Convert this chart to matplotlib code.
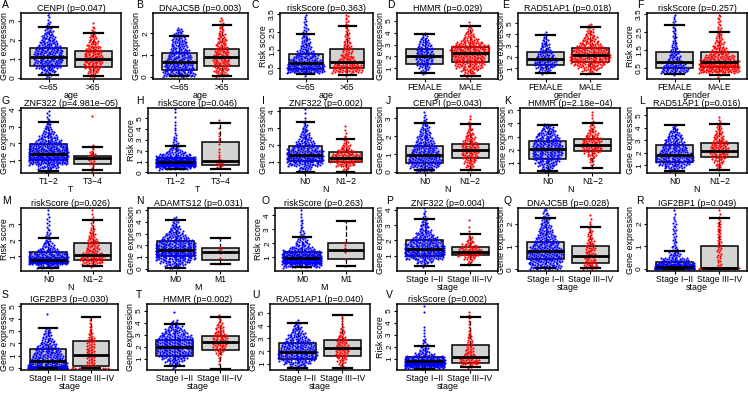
import numpy as np
import matplotlib.pyplot as plt

plt.rcParams['font.family'] = ['Liberation Sans', 'DejaVu Sans']

# ---- data ----
letters = list('ABCDEFGHIJKLMNOPQRSTUV')
titles = ['CENPI (p=0.047)', 'DNAJC5B (p=0.003)', 'riskScore (p=0.363)', 'HMMR (p=0.029)',
          'RAD51AP1 (p=0.018)', 'riskScore (p=0.257)',
          'ZNF322 (p=4.981e\u221205)', 'riskScore (p=0.046)', 'ZNF322 (p=0.002)', 'CENPI (p=0.043)',
          'HMMR (p=2.18e\u221204)', 'RAD51AP1 (p=0.016)',
          'riskScore (p=0.026)', 'ADAMTS12 (p=0.031)', 'riskScore (p=0.263)', 'ZNF322 (p=0.004)',
          'DNAJC5B (p=0.028)', 'IGF2BP1 (p=0.049)',
          'IGF2BP3 (p=0.030)', 'HMMR (p=0.002)', 'RAD51AP1 (p=0.040)', 'riskScore (p=0.002)']
clin = ['age'] * 3 + ['gender'] * 3 + ['T'] * 2 + ['N'] * 5 + ['M'] * 2 + ['stage'] * 7
group_names = {'age': ['<=65', '>65'], 'gender': ['FEMALE', 'MALE'], 'T': ['T1\u22122', 'T3\u22124'],
               'N': ['N0', 'N1\u22122'], 'M': ['M0', 'M1'], 'stage': ['Stage I\u2212II', 'Stage III\u2212IV']}

ylims = [(-0.05, 3.42), (-0.1, 2.93), (-0.09, 3.56), (0.08, 5.67), (0.05, 5.9), (-0.09, 3.56),
         (0.25, 4.1), (-0.06, 5.95), (0.34, 4.2), (-0.05, 3.57), (0.23, 5.17), (0.4, 5.58),
         (0.07, 4.03), (-0.2, 5.2), (0.01, 4.53), (0.0, 4.13), (-0.08, 2.68), (-0.1, 2.7),
         (-0.16, 5.2), (0.09, 5.55), (0.53, 5.7), (0.09, 5.57)]
yticks = [[0, 1, 2, 3], [0, 1, 2], [0.5, 1.5, 2.5, 3.5], [1, 2, 3, 4, 5], [1, 2, 3, 4, 5], [0.5, 1.5, 2.5, 3.5],
          [1, 2, 3, 4], [0, 1, 2, 3, 4, 5], [1, 2, 3, 4], [0, 1, 2, 3], [1, 2, 3, 4, 5], [1, 2, 3, 4, 5],
          [1, 2, 3], [0, 1, 2, 3, 4, 5], [1, 2, 3, 4], [1, 2, 3, 4], [0, 1, 2], [0, 1, 2],
          [0, 1, 2, 3, 4, 5], [1, 2, 3, 4, 5], [1, 2, 3, 4, 5], [1, 2, 3, 4, 5]]

# box stats per group: low whisker, q1, median, q3, high whisker
box_stats = [
    [[0.14, 0.65, 1.12, 1.56, 2.7], [0.1, 0.56, 0.98, 1.42, 2.35]],
    [[0.03, 0.31, 0.69, 1.08, 1.89], [0.06, 0.5, 0.89, 1.26, 2.38]],
    [[0.19, 0.46, 0.81, 1.27, 2.4], [0.15, 0.5, 0.86, 1.55, 2.85]],
    [[0.57, 1.38, 2.05, 2.6, 3.86], [0.3, 1.48, 2.29, 2.8, 4.55]],
    [[0.55, 1.3, 1.85, 2.4, 3.95], [0.5, 1.55, 2.2, 2.8, 4.7]],
    [[0.19, 0.5, 0.83, 1.42, 2.9], [0.13, 0.56, 0.87, 1.42, 2.5]],
    [[0.37, 1.04, 1.38, 1.95, 3.3], [0.42, 0.78, 1.15, 1.25, 1.8]],
    [[0.3, 0.7, 0.92, 1.29, 2.4], [0.3, 0.7, 1.07, 2.8, 4.6]],
    [[0.4, 1.06, 1.4, 1.96, 3.35], [0.42, 1.0, 1.26, 1.56, 2.37]],
    [[0.09, 0.53, 0.98, 1.46, 2.76], [0.12, 0.76, 1.21, 1.57, 2.7]],
    [[0.35, 1.3, 2.05, 2.63, 3.87], [0.63, 1.87, 2.37, 2.8, 4.05]],
    [[0.53, 1.26, 1.84, 2.62, 4.2], [0.6, 1.66, 2.13, 2.83, 4.3]],
    [[0.28, 0.59, 0.79, 1.25, 2.17], [0.36, 0.77, 1.1, 1.8, 3.27]],
    [[0.08, 1.07, 1.62, 2.33, 4.15], [0.36, 0.78, 1.4, 1.77, 2.65]],
    [[0.28, 0.61, 0.93, 1.36, 2.48], [0.4, 0.88, 1.52, 2.05, 3.63]],
    [[0.35, 1.0, 1.44, 2.0, 3.4], [0.42, 1.02, 1.24, 1.6, 2.4]],
    [[0.07, 0.44, 0.79, 1.17, 2.23], [0.06, 0.29, 0.59, 1.01, 1.85]],
    [[0.0, 0.01, 0.08, 0.28, 0.77], [0.0, 0.02, 0.05, 1.0, 2.26]],
    [[0.0, 0.05, 0.59, 1.54, 3.25], [0.0, 0.14, 1.09, 2.17, 4.15]],
    [[0.45, 1.22, 1.97, 2.57, 3.86], [0.17, 1.78, 2.38, 2.94, 4.5]],
    [[0.69, 1.39, 1.96, 2.62, 4.2], [0.69, 1.6, 2.25, 2.9, 4.8]],
    [[0.2, 0.51, 0.8, 1.14, 2.05], [0.3, 0.7, 1.14, 2.2, 4.52]],
]

# number of samples per 0.25-wide bin (R and S: first bin is the 0-0.05 band)
counts = [
    [[6, 16, 26, 30, 32, 30, 26, 20, 15, 10, 8, 4, 2, 2], [6, 12, 18, 20, 20, 18, 15, 11, 8, 5, 3, 1]],
    [[40, 35, 35, 30, 25, 20, 18, 15, 8], [14, 18, 20, 20, 18, 15, 12, 9, 6, 4, 3]],
    [[2, 50, 45, 35, 25, 18, 12, 10, 8, 6, 5, 3, 3, 2], [2, 30, 28, 18, 14, 10, 9, 7, 5, 4, 3, 3, 3, 3]],
    [[0, 0, 3, 5, 8, 10, 11, 12, 12, 11, 10, 9, 8, 6, 4, 2],
     [0, 4, 8, 12, 18, 20, 20, 21, 22, 24, 26, 24, 18, 12, 8, 6, 4, 3, 2, 1]],
    [[0, 0, 4, 8, 12, 14, 14, 13, 11, 9, 7, 6, 5, 4, 3, 2, 2],
     [0, 0, 5, 10, 15, 20, 24, 26, 26, 24, 22, 18, 14, 11, 9, 7, 5, 4, 3, 2]],
    [[1, 28, 22, 15, 11, 9, 7, 5, 4, 3, 3, 3, 3, 2], [3, 50, 55, 42, 30, 20, 14, 10, 7, 5, 4, 3, 3, 3]],
    [[0, 4, 20, 45, 60, 58, 45, 35, 25, 18, 12, 8, 5, 3, 2, 2], [0, 1, 2, 4, 6, 6, 2, 2, 0, 0, 0, 0, 0, 0, 1]],
    [[0, 20, 65, 95, 60, 35, 20, 12, 8, 6, 4, 3, 2, 2, 1, 1, 1, 1, 1, 0, 1, 0, 1, 1],
     [0, 1, 4, 5, 3, 1, 1, 1, 1, 0, 1, 1, 1, 1, 1, 0, 1, 0, 0, 1]],
    [[0, 2, 12, 32, 45, 45, 35, 25, 18, 13, 9, 6, 4, 2, 1, 1, 1], [0, 1, 6, 18, 30, 28, 16, 9, 5, 3, 2, 1, 1]],
    [[18, 30, 34, 32, 28, 24, 20, 16, 12, 9, 6, 4, 2, 1], [4, 8, 12, 15, 17, 17, 15, 11, 8, 5, 3, 2, 1]],
    [[0, 4, 9, 14, 18, 20, 22, 22, 22, 21, 20, 18, 15, 12, 9, 6],
     [0, 0, 1, 2, 3, 4, 7, 12, 15, 16, 14, 12, 9, 6, 4, 3, 2, 1, 1, 1]],
    [[0, 0, 6, 14, 22, 26, 26, 24, 20, 18, 16, 14, 12, 10, 8, 5, 3],
     [0, 0, 1, 3, 5, 7, 10, 12, 13, 13, 12, 10, 8, 7, 5, 4, 3, 2, 1, 1]],
    [[0, 20, 75, 60, 35, 20, 11, 8, 5, 4, 3, 2, 2, 2, 1, 1], [0, 3, 18, 22, 18, 12, 10, 9, 8, 6, 4, 3, 2, 2, 1, 1]],
    [[8, 14, 20, 28, 34, 36, 34, 30, 26, 22, 18, 14, 11, 8, 6, 4, 3, 2], [0, 1, 0, 1, 0, 1, 2, 1, 0, 0, 1]],
    [[0, 30, 70, 85, 55, 35, 20, 12, 9, 6, 4, 3, 2, 2, 2, 1, 1, 1], [0, 1, 0, 1, 0, 1, 1, 1, 1, 0, 0, 0, 0, 0, 1]],
    [[0, 3, 14, 32, 46, 46, 36, 28, 22, 16, 11, 8, 6, 4, 3, 2, 1], [0, 1, 4, 10, 20, 20, 14, 7, 4, 2, 1, 1, 0, 1]],
    [[40, 42, 45, 40, 33, 26, 19, 14, 10, 7, 4], [18, 14, 13, 12, 10, 7, 5, 3, 2, 1]],
    [[120, 80, 35, 15, 7, 5, 4, 4, 4, 3, 2, 1], [40, 4, 4, 5, 5, 5, 4, 4, 4, 3, 2, 1]],
    [[70, 30, 30, 25, 22, 20, 18, 16, 13, 10, 8, 6, 5, 4, 0, 0, 0, 0, 1],
     [15, 6, 5, 5, 5, 6, 6, 5, 5, 5, 5, 3, 3, 2, 2, 1, 1, 1]],
    [[0, 3, 8, 13, 18, 22, 24, 24, 24, 24, 24, 22, 18, 14, 10, 7, 4, 0, 0, 1],
     [1, 0, 1, 1, 2, 3, 5, 7, 9, 10, 10, 9, 8, 6, 5, 4, 2, 1, 1]],
    [[0, 0, 3, 12, 20, 26, 28, 28, 26, 24, 22, 18, 14, 11, 8, 6, 4, 2],
     [0, 0, 1, 3, 5, 7, 8, 9, 9, 9, 8, 7, 6, 4, 3, 2, 1, 1, 1, 1]],
    [[2, 50, 85, 70, 30, 14, 8, 6, 4, 3, 2, 1, 1, 1, 1, 0, 0, 0, 0, 1, 0, 1],
     [0, 3, 12, 14, 12, 8, 6, 5, 4, 4, 3, 3, 2, 2, 1, 1, 1, 1, 1, 1]],
]
zero_band_panels = ['R', 'S']

# ---- layout (pixels) ----
W, H = 748, 395
row_tb = [(13, 79), (108, 173), (208, 271), (304, 370)]
frames = [[(21, 121), (153, 248), (280, 373), (397, 498), (518, 618), (647, 747)],
          [(21, 120), (148, 248), (280, 371), (397, 498), (520, 620), (647, 747)],
          [(21, 120), (148, 248), (275, 373), (397, 498), (518, 618), (647, 747)],
          [(21, 118), (147, 248), (270, 370), (397, 498)]]
letter_x = [[2, 136, 252, 387, 502, 637], [2, 136, 262, 386, 504, 639],
            [2, 136, 262, 386, 504, 636], [2, 136, 252, 386]]
letter_y = [4.5, 100.5, 200.5, 295.5]
XLIM = (0.38, 2.62)

fig = plt.figure(figsize=(W / 100, H / 100), dpi=100)


def swarm(ax, xc, cnt, edges, color, px_x, px_y):
    xs, ys = [], []
    for i, n in enumerate(cnt):
        if n == 0:
            continue
        lo, hi = edges[i], edges[i + 1]
        h_px = (hi - lo) * px_y
        w = min(0.9, n * 4.5 / (h_px * px_x))
        for k in range(n):
            ys.append(lo + (k + 0.5) / n * (hi - lo))
            xs.append(xc + w * (((k * 0.618034) % 1) - 0.5))
    ax.scatter(xs, ys, s=2.4, c=color, lw=0, zorder=2)


idx = 0
for r, row in enumerate(frames):
    top, bot = row_tb[r]
    for c, (left, right) in enumerate(row):
        ax = fig.add_axes([left / W, 1 - bot / H, (right - left) / W, (bot - top) / H])
        ylo, yhi = ylims[idx]
        px_x = (right - left) / (XLIM[1] - XLIM[0])
        px_y = (bot - top) / (yhi - ylo)
        if letters[idx] in zero_band_panels:
            edges = [0.0, 0.05] + list(np.arange(0.25, 6.01, 0.25))
        else:
            edges = list(np.arange(0, 6.01, 0.25))

        stats = [dict(whislo=s[0], q1=s[1], med=s[2], q3=s[3], whishi=s[4], fliers=[])
                 for s in box_stats[idx]]
        bp = ax.bxp(stats, positions=[1, 2], widths=0.82, patch_artist=True, showfliers=False,
                    capwidths=0.42,
                    boxprops=dict(facecolor='#d3d3d3', edgecolor='black', lw=1.1),
                    medianprops=dict(color='black', lw=2.0),
                    whiskerprops=dict(color='black', ls='--', lw=0.9),
                    capprops=dict(color='black', lw=1.6))
        for b in bp['boxes']:
            b.set_zorder(1)
        for w in bp['whiskers']:
            w.set_zorder(1.5)
        for m in bp['medians'] + bp['caps']:
            m.set_zorder(3)

        swarm(ax, 1, counts[idx][0], edges, 'blue', px_x, px_y)
        swarm(ax, 2, counts[idx][1], edges, 'red', px_x, px_y)

        ax.set_xlim(*XLIM)
        ax.set_ylim(ylo, yhi)
        ax.set_xticks([1, 2])
        ax.set_xticklabels(group_names[clin[idx]], fontsize=6.2)
        ax.set_yticks(yticks[idx])
        ax.set_yticklabels([f'{t:g}' for t in yticks[idx]], fontsize=6, rotation=90, va='center')
        ax.tick_params(length=2, width=0.8, pad=0.8)
        ax.set_xlabel(clin[idx], fontsize=6.4, labelpad=-0.5)
        ylabel = 'Risk score' if titles[idx].startswith('riskScore') else 'Gene expression'
        ax.set_ylabel(ylabel, fontsize=6.4, labelpad=0.5)
        ax.set_title(titles[idx], fontsize=6.5, pad=1.5)
        for sp in ax.spines.values():
            sp.set_linewidth(1.1)
        fig.text(letter_x[r][c] / W, 1 - letter_y[r] / H, letters[idx], fontsize=7.5,
                 ha='left', va='center')
        idx += 1

fig.savefig('out.png', dpi=100)
